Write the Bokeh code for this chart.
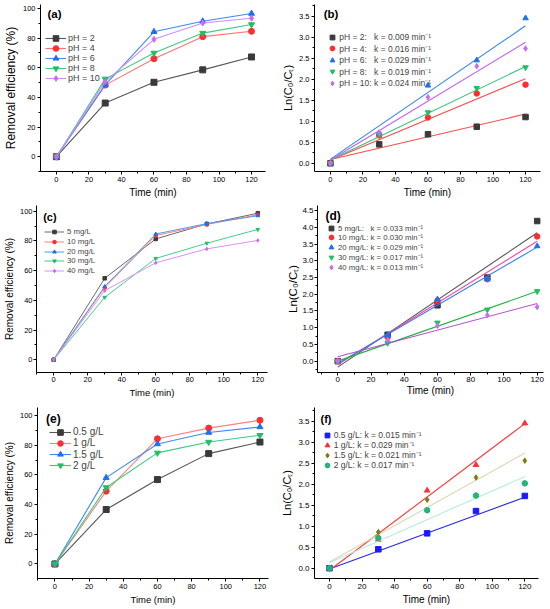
from bokeh.plotting import figure
from bokeh.models import Range1d, Legend, LegendItem, SingleIntervalTicker, NumeralTickFormatter
from bokeh.core.properties import value
from bokeh.layouts import column, row
from bokeh.embed import file_html
from bokeh.resources import INLINE

FONT = "Liberation Sans"

# ---------------- data ----------------
time = [0, 30, 60, 90, 120]

ph_labels = ["pH = 2", "pH = 4", "pH = 6", "pH = 8", "pH = 10"]
ph_removal = [
    [0, 36.2, 50.2, 58.6, 67.3],
    [0, 48.3, 66.1, 81.0, 84.6],
    [0, 48.5, 84.3, 91.4, 96.6],
    [0, 52.5, 70.0, 83.4, 89.2],
    [0, 50.6, 79.2, 90.2, 93.4],
]
ph_k_labels = ["pH = 2:   k = 0.009 min⁻¹", "pH = 4:   k = 0.016 min⁻¹",
               "pH = 6:   k = 0.029 min⁻¹", "pH = 8:   k = 0.019 min⁻¹",
               "pH = 10: k = 0.024 min⁻¹"]
ph_ln = [
    [0, 0.45, 0.69, 0.87, 1.10],
    [0, 0.66, 1.09, 1.66, 1.87],
    [0, 0.71, 1.85, 2.45, 3.45],
    [0, 0.69, 1.21, 1.79, 2.28],
    [0, 0.73, 1.57, 2.31, 2.73],
]
ph_fit_b = [0.09, 0.08, 0.10, 0.08, 0.08]
ph_fit_k = [0.0090, 0.0161, 0.0264, 0.0185, 0.0233]

conc_labels = ["5 mg/L", "10 mg/L", "20 mg/L", "30 mg/L", "40 mg/L"]
conc_removal = [
    [0, 54.8, 81.3, 91.4, 98.6],
    [0, 48.5, 83.6, 91.0, 97.6],
    [0, 49.3, 84.6, 91.6, 96.9],
    [0, 42.0, 68.2, 78.4, 87.7],
    [0, 46.5, 65.2, 74.6, 80.3],
]
conc_k_labels = ["5 mg/L:   k = 0.033 min⁻¹", "10 mg/L: k = 0.030 min⁻¹",
                 "20 mg/L: k = 0.029 min⁻¹", "30 mg/L: k = 0.017 min⁻¹",
                 "40 mg/L: k = 0.013 min⁻¹"]
conc_ln = [
    [0, 0.79, 1.67, 2.50, 4.19],
    [0, 0.72, 1.81, 2.45, 3.73],
    [0, 0.78, 1.85, 2.46, 3.44],
    [0, 0.54, 1.15, 1.54, 2.09],
    [0, 0.63, 1.06, 1.37, 1.62],
]
conc_fit_b = [-0.18, -0.10, -0.07, 0.00, 0.13]
conc_fit_k = [0.0335, 0.0307, 0.0290, 0.0174, 0.0133]

dose_labels = ["0.5 g/L", "1 g/L", "1.5 g/L", "2 g/L"]
dose_removal = [
    [0, 36.7, 56.9, 74.4, 82.2],
    [0, 49.1, 84.4, 91.6, 96.9],
    [0, 58.2, 80.9, 88.6, 92.4],
    [0, 51.6, 74.9, 82.2, 86.8],
]
dose_k_labels = ["0.5 g/L: k = 0.015 min⁻¹", "1 g/L: k = 0.029 min⁻¹",
                 "1.5 g/L: k = 0.021 min⁻¹", "2 g/L: k = 0.017 min⁻¹"]
dose_ln = [
    [0, 0.45, 0.83, 1.36, 1.72],
    [0, 0.68, 1.85, 2.46, 3.45],
    [0, 0.86, 1.63, 2.16, 2.56],
    [0, 0.72, 1.38, 1.73, 2.02],
]
dose_fit_b = [-0.02, -0.05, 0.15, 0.13]
dose_fit_k = [0.01425, 0.0291, 0.0216, 0.0171]

# ---------------- styles ----------------
MK5 = ["square", "circle", "triangle", "inverted_triangle", "diamond"]
C5_mark = ["#3a3a3a", "#ff2d2d", "#1f6ff2", "#1fbf62", "#c86cf5"]
C5_line = ["#555555", "#ff7373", "#3d8af5", "#3ccb80", "#cf8cff"]


def make_fig(w, h, bl, br, bt, bb, xr, yr):
    p = figure(width=w, height=h, x_range=Range1d(*xr), y_range=Range1d(*yr),
               toolbar_location=None, output_backend="svg",
               min_border_left=bl, min_border_right=br,
               min_border_top=bt, min_border_bottom=bb)
    p.outline_line_color = None
    p.xgrid.visible = False
    p.ygrid.visible = False
    p.background_fill_color = "white"
    p.border_fill_color = "white"
    return p


def style(p, xlab, ylab, tick_fs, xlab_fs, ylab_fs, yint, yfmt=None, lso=2, aso=2):
    p.xaxis.ticker = SingleIntervalTicker(interval=20, num_minor_ticks=2)
    p.yaxis.ticker = SingleIntervalTicker(interval=yint, num_minor_ticks=2)
    if yfmt:
        p.yaxis.formatter = NumeralTickFormatter(format=yfmt)
    p.xaxis.axis_label = xlab
    p.yaxis.axis_label = ylab
    for ax, fs in ((p.xaxis[0], xlab_fs), (p.yaxis[0], ylab_fs)):
        ax.axis_line_color = "black"
        ax.axis_line_width = 1
        ax.major_tick_line_color = "black"
        ax.minor_tick_line_color = "black"
        ax.major_tick_out = 3
        ax.major_tick_in = 0
        ax.minor_tick_out = 2
        ax.minor_tick_in = 0
        ax.major_label_text_font = FONT
        ax.major_label_text_font_size = f"{tick_fs}px"
        ax.major_label_text_color = "black"
        ax.major_label_standoff = lso
        ax.axis_label_text_font = FONT
        ax.axis_label_text_font_style = "normal"
        ax.axis_label_text_font_size = f"{fs}px"
        ax.axis_label_text_color = "black"
        ax.axis_label_standoff = aso


def add_legend(p, entries, frame_h, x_off, first_off, step, glyph_w, fs, standoff, H=14):
    # one single-row legend per entry so that each row sits at its own position
    for i, (lab, rends) in enumerate(entries):
        center = first_off + i * step
        leg = Legend(items=[LegendItem(label=lab, renderers=rends)],
                     location=(x_off, frame_h - center - H / 2),
                     orientation="vertical", glyph_width=glyph_w, glyph_height=H,
                     label_height=H, spacing=0, padding=0, margin=0,
                     border_line_color=None, background_fill_alpha=0,
                     label_text_font=FONT, label_text_font_size=f"{fs}px",
                     label_standoff=standoff)
        p.add_layout(leg)


def panel_label(p, txt, x, y, fs):
    p.text(x=[x], y=[y], text=[txt], text_font=value(FONT), text_font_style="bold",
           text_font_size=value(f"{fs}px"), text_baseline="middle", text_align="left",
           text_color="black")


# ---------------- (a) ----------------
pa = make_fig(275, 200, 39, 10, 4, 27, (-9.8, 128.6), (-10, 102.7))
entries = []
for i, lab in enumerate(ph_labels):
    lr = pa.line(time, ph_removal[i], line_color=C5_line[i], line_width=1.1)
    sr = pa.scatter(time, ph_removal[i], marker=MK5[i], size=6, fill_color=C5_mark[i],
                    line_color=C5_mark[i])
    entries.append((lab, [lr, sr]))
style(pa, "Time (min)", "Removal efficiency (%)", 7.5, 10, 12, 20)
add_legend(pa, entries, 169, 5, 35.5, 10, 21, 9, 2)
panel_label(pa, "(a)", -5.5, 96, 11.5)

# ---------------- (b) ----------------
pb = make_fig(275, 200, 39, 10, 4, 27, (-9.8, 129.2), (-0.195, 3.775))
fitcol_b = ["#ff4a4a", "#ff4a4a", "#2d86f0", "#2fc27a", "#c062f0"]
entries = []
for i, lab in enumerate(ph_k_labels):
    tt = [time[0], time[-1]]
    pb.line(tt, [ph_fit_b[i] + ph_fit_k[i] * t for t in tt], line_color=fitcol_b[i], line_width=1.1)
    sr = pb.scatter(time, ph_ln[i], marker=MK5[i], size=5.5, fill_color=C5_mark[i],
                    line_color=C5_mark[i])
    entries.append((lab, [sr]))
style(pb, "Time (min)", "Ln(C₀/Cₜ)", 7.5, 10, 11, 0.5, "0.0")
add_legend(pb, entries, 169, 12.3, 34.5, 11.5, 12, 8.5, 1)
panel_label(pb, "(b)", -4.1, 3.54, 11.5)

# ---------------- (c) ----------------
pc = make_fig(275, 200, 35, 8, 5, 25, (-10.1, 125.7), (-8.6, 103.8))
C5c_line = ["#6a6a6a", "#ff8080", "#4a9af5", "#3fd08e", "#d890ff"]
entries = []
for i, lab in enumerate(conc_labels):
    lr = pc.line(time, conc_removal[i], line_color=C5c_line[i], line_width=1.0)
    sr = pc.scatter(time, conc_removal[i], marker=MK5[i], size=3.5, fill_color=C5_mark[i],
                    line_color=C5_mark[i])
    entries.append((lab, [lr, sr]))
style(pc, "Time (min)", "Removal efficiency (%)", 7.5, 9.5, 10, 20, lso=1, aso=2)
add_legend(pc, entries, 170, 8, 29.5, 9.8, 20, 7.8, 3, H=9)
panel_label(pc, "(c)", -6.2, 96, 11)

# ---------------- (d) ----------------
pd_ = make_fig(275, 200, 42, 7, 4, 25, (-12.2, 123.8), (-0.34, 4.655))
fitcol_d = ["#555555", "#ff3fa0", "#2f7ff5", "#22b040", "#b84fd0"]
entries = []
for i, lab in enumerate(conc_k_labels):
    tt = [time[0], time[-1]]
    pd_.line(tt, [conc_fit_b[i] + conc_fit_k[i] * t for t in tt], line_color=fitcol_d[i], line_width=1.1)
    sr = pd_.scatter(time, conc_ln[i], marker=MK5[i], size=5.5, fill_color=C5_mark[i],
                     line_color=C5_mark[i])
    entries.append((lab, [sr]))
style(pd_, "Time (min)", "Ln(C₀/Cₜ)", 8, 10, 11.5, 0.5, "0.0", lso=1, aso=0)
add_legend(pd_, entries, 171, 8, 26.5, 9.8, 12, 7.8, 1)
panel_label(pd_, "(d)", -7.4, 4.33, 12)

# ---------------- (e) ----------------
pe = make_fig(275, 209, 33, 7, 5, 31, (-10.2, 125.0), (-9.8, 105.5))
MK4e = ["square", "circle", "triangle", "inverted_triangle"]
C4e_mark = ["#3a3a3a", "#ff2d2d", "#1f6ff2", "#1fbf62"]
C4e_line = ["#555555", "#ff8080", "#3d8af5", "#3ccb80"]
entries = []
for i, lab in enumerate(dose_labels):
    lr = pe.line(time, dose_removal[i], line_color=C4e_line[i], line_width=1.1)
    sr = pe.scatter(time, dose_removal[i], marker=MK4e[i], size=6, fill_color=C4e_mark[i],
                    line_color=C4e_mark[i])
    entries.append((lab, [lr, sr]))
style(pe, "Time (min)", "Removal efficiency (%)", 7.5, 9.5, 10, 20)
add_legend(pe, entries, 173, 12, 26.5, 11.3, 22, 10, 2)
panel_label(pe, "(e)", -5.2, 97.7, 12)

# ---------------- (f) ----------------
pf = make_fig(275, 209, 39, 12, 7, 31, (-9.2, 128.4), (-0.245, 3.826))
MK4f = ["square", "triangle", "diamond", "circle"]
C4f_mark = ["#1a1aff", "#ff3030", "#7d7d12", "#22b478"]
C4f_line = ["#2a2ae6", "#ff3535", "#d9d9b5", "#b5ecdd"]
entries = []
for i, lab in enumerate(dose_k_labels):
    tt = [time[0], time[-1]]
    pf.line(tt, [dose_fit_b[i] + dose_fit_k[i] * t for t in tt], line_color=C4f_line[i], line_width=1.1)
    sr = pf.scatter(time, dose_ln[i], marker=MK4f[i], size=5.5, fill_color=C4f_mark[i],
                    line_color=C4f_mark[i])
    entries.append((lab, [sr]))
style(pf, "Time (min)", "Ln(C₀/Cₜ)", 8, 10, 11, 0.5, "0.0")
add_legend(pf, entries, 171, 6.7, 27.5, 10, 12, 8.5, 1)
panel_label(pf, "(f)", -5.5, 3.56, 11)

layout = column(row(pa, pb), row(pc, pd_), row(pe, pf))

open("out.html", "w").write(file_html(layout, INLINE))
